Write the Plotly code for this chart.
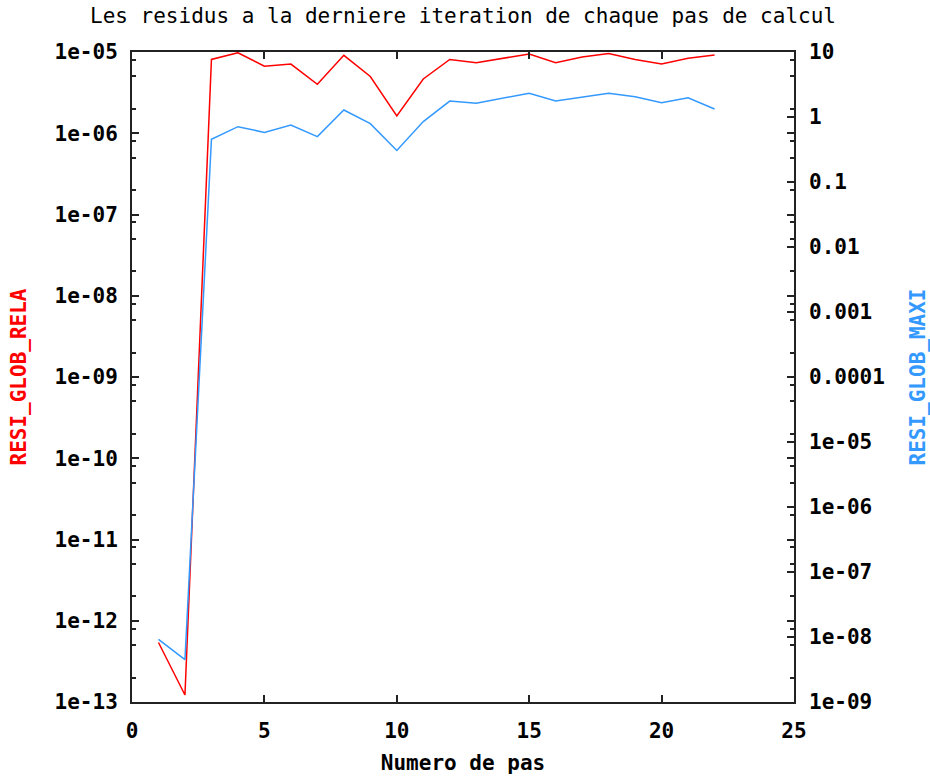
import plotly.graph_objects as go

steps = list(range(1, 23))
resi_glob_rela = [5.4e-13, 1.22e-13, 8.1e-6, 9.8e-6, 6.7e-6, 7.1e-6, 4.0e-6, 9.1e-6,
                  5.0e-6, 1.63e-6, 4.65e-6, 8.1e-6, 7.4e-6, 8.4e-6, 9.45e-6, 7.4e-6,
                  8.7e-6, 9.6e-6, 8.1e-6, 7.1e-6, 8.4e-6, 9.2e-6]
resi_glob_maxi = [9.2e-9, 4.5e-9, 0.454, 0.71, 0.58, 0.75, 0.50, 1.28,
                  0.79, 0.305, 0.85, 1.76, 1.63, 1.94, 2.32, 1.76,
                  2.01, 2.32, 2.05, 1.66, 1.98, 1.33]

left_tickvals = [10.0 ** e for e in range(-13, -4)]
left_ticktext = ["1e-13", "1e-12", "1e-11", "1e-10", "1e-09", "1e-08", "1e-07", "1e-06", "1e-05"]
left_minor = [m * 10.0 ** e for e in range(-13, -5) for m in (2, 5, 8)]
right_tickvals = [10.0 ** e for e in range(-9, 2)]
right_ticktext = ["1e-09", "1e-08", "1e-07", "1e-06", "1e-05", "0.0001", "0.001", "0.01", "0.1", "1", "10"]
x_tickvals = [0, 5, 10, 15, 20, 25]

RED = "#ff0000"
BLUE = "#3399ff"
MONO = "DejaVu Sans Mono"

fig = go.Figure()
fig.add_trace(go.Scatter(x=steps, y=resi_glob_rela, mode="lines",
                         line=dict(color=RED, width=1.5), yaxis="y", showlegend=False))
fig.add_trace(go.Scatter(x=steps, y=resi_glob_maxi, mode="lines",
                         line=dict(color=BLUE, width=1.5), yaxis="y2", showlegend=False))

tickfont = dict(family=MONO, size=21, color="black", weight="bold")

fig.update_layout(
    width=930, height=776,
    margin=dict(l=132, r=136, t=52, b=74, autoexpand=False),
    plot_bgcolor="white", paper_bgcolor="white",
    title=dict(text="Les residus a la derniere iteration de chaque pas de calcul",
               x=0.5, xref="paper", xanchor="center",
               y=1 - 16 / 776, yref="container", yanchor="middle",
               font=dict(family=MONO, size=21, color="black")),
    xaxis=dict(range=[0, 25], tickmode="array", tickvals=x_tickvals,
               ticks="inside", ticklen=7, tickwidth=1.5, tickcolor="#222",
               showline=True, linecolor="#222", linewidth=2, mirror="ticks",
               showgrid=False, zeroline=False, tickfont=tickfont,
               ticklabelstandoff=9, automargin=False,
               title=dict(text="Numero de pas", font=tickfont, standoff=13)),
    yaxis=dict(type="log", range=[-13, -5], tickmode="array",
               tickvals=left_tickvals, ticktext=left_ticktext,
               ticks="inside", ticklen=7, tickwidth=1.5, tickcolor="#222",
               minor=dict(tickmode="array", tickvals=left_minor, ticks="inside",
                          ticklen=4, tickwidth=1.5, tickcolor="#222", showgrid=False),
               showline=True, linecolor="#222", linewidth=2, mirror="ticks",
               showgrid=False, zeroline=False, tickfont=tickfont,
               ticklabelstandoff=8, automargin=False,
               title=dict(text="RESI_GLOB_RELA",
                          font=dict(family=MONO, size=21, color=RED, weight="bold"),
                          standoff=22)),
    yaxis2=dict(type="log", range=[-9, 1], overlaying="y", side="right",
                tickmode="array", tickvals=right_tickvals, ticktext=right_ticktext,
                ticks="inside", ticklen=7, tickwidth=1.5, tickcolor="#222",
                showline=False, showgrid=False, zeroline=False, tickfont=tickfont,
                ticklabelstandoff=14, automargin=False,
                title=dict(text="RESI_GLOB_MAXI",
                           font=dict(family=MONO, size=21, color=BLUE, weight="bold"),
                           standoff=28)),
)

fig.write_html("out.html")
